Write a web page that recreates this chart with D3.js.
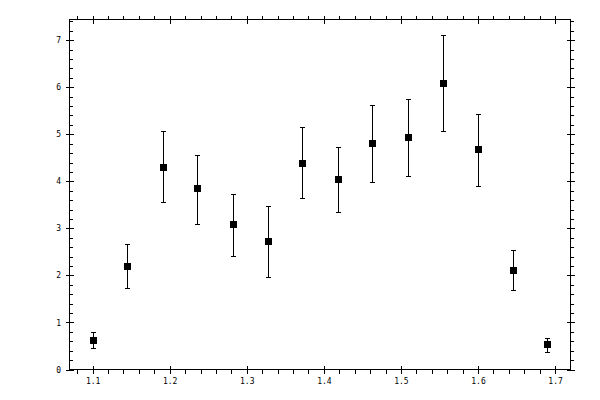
<!DOCTYPE html>
<html>
<head>
<meta charset="utf-8">
<script src="https://d3js.org/d3.v7.min.js"></script>
<style>
body { margin: 0; background: #fff; }
text { font-family: "DejaVu Sans Mono", monospace; font-size: 8px; fill: #000; }
line, rect { shape-rendering: crispEdges; }
</style>
</head>
<body>
<svg width="600" height="400"></svg>
<script>
// data
var xVals = [1.100, 1.145, 1.191, 1.236, 1.282, 1.327, 1.372, 1.418, 1.463, 1.509, 1.554, 1.600, 1.645, 1.690];
var yVals = [0.62, 2.19, 4.29, 3.85, 3.08, 2.72, 4.38, 4.04, 4.80, 4.93, 6.08, 4.68, 2.10, 0.53];
var yHigh = [0.79, 2.66, 5.06, 4.57, 3.74, 3.48, 5.15, 4.74, 5.63, 5.76, 7.10, 5.43, 2.53, 0.68];
var yLow  = [0.46, 1.74, 3.55, 3.10, 2.42, 1.96, 3.64, 3.34, 3.98, 4.12, 5.06, 3.91, 1.68, 0.38];

var xMajor = [1.1, 1.2, 1.3, 1.4, 1.5, 1.6, 1.7];
var xMinor = [1.08, 1.12, 1.14, 1.16, 1.18, 1.22, 1.24, 1.26, 1.28, 1.32, 1.34, 1.36, 1.38,
              1.42, 1.44, 1.46, 1.48, 1.52, 1.54, 1.56, 1.58, 1.62, 1.64, 1.66, 1.68];
var yMajor = [0, 1, 2, 3, 4, 5, 6, 7];
var yMinor = [];
yMajor.forEach(function(v) { [0.2, 0.4, 0.6, 0.8].forEach(function(f) { if (v + f < 7.44) yMinor.push(+(v + f).toFixed(1)); }); });

var L = 69.5, R = 570.5, T = 19.5, B = 369.5;

var x = d3.scaleLinear().domain([1.07, 1.72]).range([L, R]);
var y = d3.scaleLinear().domain([0, 7.44]).range([B, T]);

var svg = d3.select("svg");

svg.append("rect")
  .attr("x", L).attr("y", T)
  .attr("width", R - L).attr("height", B - T)
  .style("fill", "none").style("stroke", "#000");

function clean(g) { g.select(".domain").remove(); g.selectAll("line").attr("stroke", "#000"); }

// bottom
svg.append("g").attr("transform", "translate(0," + B + ")")
  .call(d3.axisBottom(x).tickValues(xMajor).tickSize(4).tickFormat(d3.format(".1f")))
  .call(clean)
  .call(function(g) {
    g.selectAll("line").attr("y1", -4);
    g.selectAll("text").attr("y", 14).attr("dy", 0);
  });
svg.append("g").attr("transform", "translate(0," + B + ")")
  .call(d3.axisBottom(x).tickValues(xMinor).tickSize(4).tickFormat(""))
  .call(clean);

// top
svg.append("g").attr("transform", "translate(0," + T + ")")
  .call(d3.axisTop(x).tickValues(xMajor).tickSize(4).tickFormat(""))
  .call(clean)
  .call(function(g) { g.selectAll("line").attr("y1", 4); });
svg.append("g").attr("transform", "translate(0," + T + ")")
  .call(d3.axisTop(x).tickValues(xMinor).tickSize(3.5).tickFormat(""))
  .call(clean);

// left
svg.append("g").attr("transform", "translate(" + L + ",0)")
  .call(d3.axisLeft(y).tickValues(yMajor).tickSize(4).tickPadding(4.5).tickFormat(d3.format("d")))
  .call(clean)
  .call(function(g) { g.selectAll("line").attr("x1", 4); });
svg.append("g").attr("transform", "translate(" + L + ",0)")
  .call(d3.axisRight(y).tickValues(yMinor).tickSize(3.5).tickFormat(""))
  .call(clean);

// right
svg.append("g").attr("transform", "translate(" + R + ",0)")
  .call(d3.axisRight(y).tickValues(yMajor).tickSize(4).tickFormat(""))
  .call(clean)
  .call(function(g) { g.selectAll("line").attr("x1", -4); });
svg.append("g").attr("transform", "translate(" + R + ",0)")
  .call(d3.axisRight(y).tickValues(yMinor).tickSize(3.5).tickFormat(""))
  .call(clean);

// points with error bars
var pts = xVals.map(function(d, i) { return { x: d, y: yVals[i], lo: yLow[i], hi: yHigh[i] }; });
var g = svg.append("g");
var cap = 2.5, half = 3.5;

g.selectAll(".bar").data(pts).enter().append("line")
  .attr("x1", function(d) { return Math.round(x(d.x)) + 0.5; })
  .attr("x2", function(d) { return Math.round(x(d.x)) + 0.5; })
  .attr("y1", function(d) { return y(d.hi); })
  .attr("y2", function(d) { return y(d.lo); })
  .style("stroke", "#000");

[["hi"], ["lo"]].forEach(function(k) {
  g.selectAll(".cap-" + k[0]).data(pts).enter().append("line")
    .attr("x1", function(d) { return Math.round(x(d.x)) + 0.5 - cap; })
    .attr("x2", function(d) { return Math.round(x(d.x)) + 0.5 + cap; })
    .attr("y1", function(d) { return Math.round(y(d[k[0]])) + 0.5; })
    .attr("y2", function(d) { return Math.round(y(d[k[0]])) + 0.5; })
    .style("stroke", "#000");
});

g.selectAll("rect").data(pts).enter().append("rect")
  .attr("x", function(d) { return Math.round(x(d.x)) + 0.5 - half; })
  .attr("y", function(d) { return y(d.y) - half; })
  .attr("width", half * 2).attr("height", half * 2)
  .style("fill", "#000");
</script>
</body>
</html>
